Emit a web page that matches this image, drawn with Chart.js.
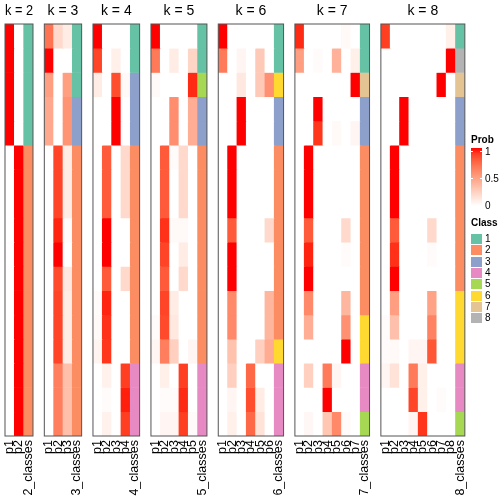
<!DOCTYPE html>
<html>
<head>
<meta charset="utf-8">
<script src="https://cdn.jsdelivr.net/npm/chart.js@4.4.1/dist/chart.umd.min.js"></script>
<style>
  html, body { margin: 0; padding: 0; background: #fff; }
  #wrap { position: relative; width: 504px; height: 504px; overflow: hidden;
          font-family: "Liberation Sans", Arial, sans-serif; color: #000; }
  #wrap canvas { position: absolute; left: 0; top: 0; }
  .lg-title { position: absolute; font-weight: bold; font-size: 10px; line-height: 10px; }
  .lg-text { position: absolute; font-size: 10px; line-height: 10px; }
  .lg-box { position: absolute; }
</style>
</head>
<body>
<div id="wrap"></div>
<script>
// Paneles k = 2..8, 17 muestras por panel (de arriba hacia abajo)
const kValues = [2, 3, 4, 5, 6, 7, 8];

const probK2 = [
    [1, 0], [1, 0], [1, 0], [1, 0], [1, 0],
    [0, 1], [0, 1], [0, 1], [0, 1], [0, 1], [0, 1],
    [0, 1], [0, 1], [0, 1], [0, 1], [0, 1], [0, 1]
];
const classK2 = [1, 1, 1, 1, 1, 2, 2, 2, 2, 2, 2, 2, 2, 2, 2, 2, 2];

const probK3 = [
    [0.7, 0.2, 0.1], [1, 0, 0], [0.5, 0, 0.5], [0.45, 0, 0.55], [0.45, 0, 0.55],
    [0, 0.88, 0.1], [0, 0.88, 0.1], [0, 0.88, 0.1], [0, 0.96, 0.02], [0, 1, 0],
    [0, 0.86, 0.12], [0, 0.88, 0.1], [0, 0.88, 0.1], [0, 0.88, 0.1],
    [0, 0.65, 0.33], [0, 0.65, 0.33], [0, 0.65, 0.33]
];
const classK3 = [1, 1, 1, 3, 3, 2, 2, 2, 2, 2, 2, 2, 2, 2, 2, 2, 2];

const probK4 = [
    [1, 0, 0, 0], [0.88, 0, 0.08, 0], [0.1, 0, 0.85, 0.03], [0, 0, 1, 0], [0, 0, 1, 0],
    [0, 0.8, 0, 0.2], [0, 0.8, 0, 0.2], [0, 0.8, 0, 0.2], [0, 1, 0, 0], [0, 1, 0, 0],
    [0, 0.8, 0, 0.2], [0.02, 0.96, 0, 0], [0.03, 0.93, 0, 0], [0.06, 0.92, 0, 0],
    [0, 0.07, 0, 0.9], [0, 0.02, 0, 0.97], [0, 0.07, 0, 0.9]
];
const classK4 = [1, 1, 3, 3, 3, 2, 2, 2, 2, 2, 2, 2, 2, 2, 4, 4, 4];

const probK5 = [
    [1, 0, 0, 0, 0], [0.67, 0, 0.1, 0, 0.22], [0.03, 0, 0, 0, 0.95],
    [0, 0, 0.58, 0, 0.42], [0, 0, 0.58, 0, 0.42],
    [0, 0.8, 0.02, 0.2, 0], [0, 0.8, 0, 0.2, 0], [0, 0.8, 0, 0.2, 0],
    [0, 0.93, 0.03, 0.03, 0], [0, 0.88, 0, 0.1, 0], [0, 0.8, 0, 0.2, 0],
    [0, 0.88, 0.1, 0, 0], [0.02, 0.86, 0.12, 0, 0], [0.05, 0.65, 0.25, 0, 0.05],
    [0, 0.08, 0, 0.9, 0], [0, 0.02, 0.02, 0.95, 0], [0, 0.05, 0.05, 0.9, 0.02]
];
const classK5 = [1, 1, 5, 3, 3, 2, 2, 2, 2, 2, 2, 2, 2, 2, 4, 4, 4];

const probK6 = [
    [1, 0, 0, 0, 0, 0], [0.67, 0, 0.05, 0, 0.28, 0], [0, 0, 0.12, 0, 0.28, 0.57],
    [0, 0, 1, 0, 0, 0], [0, 0, 1, 0, 0, 0],
    [0, 1, 0, 0, 0, 0], [0, 1, 0, 0, 0, 0], [0, 1, 0, 0, 0, 0],
    [0, 0.8, 0, 0, 0, 0.2], [0, 1, 0, 0, 0, 0], [0, 1, 0, 0, 0, 0],
    [0, 0.6, 0, 0, 0, 0.38], [0, 0.6, 0, 0, 0, 0.38], [0, 0.32, 0, 0, 0.25, 0.43],
    [0, 0.25, 0, 0.75, 0, 0], [0, 0.05, 0, 0.85, 0.1, 0], [0, 0.08, 0, 0.75, 0.15, 0]
];
const classK6 = [1, 1, 6, 3, 3, 2, 2, 2, 2, 2, 2, 2, 2, 6, 4, 4, 4];

const probK7 = [
    [0.95, 0, 0, 0, 0, 0.03, 0], [0.5, 0, 0.02, 0, 0.4, 0, 0.08], [0, 0, 0, 0, 0, 0, 1],
    [0, 0, 1, 0, 0, 0, 0], [0, 0, 0.92, 0, 0.03, 0, 0.05],
    [0, 1, 0, 0, 0, 0, 0], [0, 1, 0, 0, 0, 0, 0], [0, 1, 0, 0, 0, 0, 0],
    [0, 0.8, 0, 0, 0, 0.2, 0], [0, 0.96, 0, 0, 0, 0.02, 0], [0, 1, 0, 0, 0, 0, 0],
    [0, 0.6, 0, 0, 0, 0.38, 0], [0, 0.42, 0, 0, 0, 0.57, 0], [0, 0, 0, 0, 0, 1, 0],
    [0, 0.25, 0, 0.67, 0.05, 0, 0], [0, 0, 0, 1, 0, 0, 0], [0, 0.04, 0, 0.3, 0.6, 0.02, 0]
];
const classK7 = [1, 1, 7, 3, 3, 2, 2, 2, 2, 2, 2, 2, 6, 6, 4, 4, 5];

const probK8 = [
    [0.9, 0, 0, 0, 0, 0, 0, 0.08], [0, 0, 0, 0, 0, 0, 0, 1], [0, 0, 0, 0, 0, 0, 1, 0],
    [0, 0, 1, 0, 0, 0, 0, 0], [0, 0, 1, 0, 0, 0, 0, 0],
    [0, 1, 0, 0, 0, 0, 0, 0], [0, 1, 0, 0, 0, 0, 0, 0], [0, 1, 0, 0, 0, 0, 0, 0],
    [0, 0.8, 0, 0, 0, 0.2, 0, 0], [0, 0.93, 0, 0, 0, 0.02, 0, 0], [0, 1, 0, 0, 0, 0, 0, 0],
    [0, 0.5, 0, 0, 0, 0.48, 0, 0], [0.02, 0.33, 0, 0, 0, 0.63, 0, 0],
    [0.02, 0.03, 0, 0.05, 0.05, 0.82, 0, 0],
    [0.05, 0.15, 0, 0.67, 0.08, 0, 0, 0], [0, 0, 0, 0.88, 0.08, 0, 0.02, 0],
    [0, 0, 0, 0.05, 0.92, 0, 0, 0]
];
const classK8 = [1, 8, 7, 3, 3, 2, 2, 2, 2, 2, 2, 6, 6, 6, 4, 4, 5];

const probSets = [probK2, probK3, probK4, probK5, probK6, probK7, probK8];
const classSets = [classK2, classK3, classK4, classK5, classK6, classK7, classK8];

// Leyendas
const classLabels = ['1', '2', '3', '4', '5', '6', '7', '8'];
const classColors = ['#66C2A5', '#FC8D62', '#8DA0CB', '#E78AC3', '#A6D854', '#FFD92F', '#E5C494', '#B3B3B3'];
const probTicks = [1, 0.5, 0];

const FONT = '"Liberation Sans", Arial, sans-serif';
const PAGE = 504;
const COL_W = 9.33;
const GAP = 11.33;
const LEFT = 5;

// Escala blanco -> rojo interpolada en LAB (como colorRamp2)
function whiteRed(v) {
    const L = 100 + (53.24 - 100) * v, A = 80.09 * v, B = 67.2 * v;
    const fy = (L + 16) / 116, fx = fy + A / 500, fz = fy - B / 200;
    const f = t => t > 0.206893 ? t * t * t : (t - 16 / 116) / 7.787;
    const X = 0.95047 * f(fx), Y = f(fy), Z = 1.08883 * f(fz);
    const r = 3.2406 * X - 1.5372 * Y - 0.4986 * Z;
    const g = -0.9689 * X + 1.8758 * Y + 0.0415 * Z;
    const b = 0.0557 * X - 0.2040 * Y + 1.0570 * Z;
    const gam = c => {
        c = Math.min(1, Math.max(0, c));
        return Math.round(255 * (c <= 0.0031308 ? 12.92 * c : 1.055 * Math.pow(c, 1 / 2.4) - 0.055));
    };
    return `rgb(${gam(r)},${gam(g)},${gam(b)})`;
}

const panelBorder = {
    id: 'panelBorder',
    afterDatasetsDraw(chart) {
        const { ctx, chartArea: a } = chart;
        ctx.save();
        ctx.strokeStyle = '#555';
        ctx.lineWidth = 1;
        ctx.strokeRect(a.left, a.top, a.right - a.left, a.bottom - a.top);
        ctx.restore();
    }
};

const wrap = document.getElementById('wrap');
let x0 = LEFT;

kValues.forEach((k, idx) => {
    const probs = probSets[idx];
    const classes = classSets[idx];
    const nCols = k + 1;
    const width = nCols * COL_W;

    const labels = [];
    for (let i = 1; i <= k; i++) labels.push('p' + i);
    labels.push(k + '_classes');

    // Cada fila es un segmento apilado de altura 1
    const datasets = probs.map((row, r) => ({
        data: labels.map(() => 1),
        backgroundColor: [...row.map(whiteRed), classColors[classes[r] - 1]],
        borderWidth: 0,
        categoryPercentage: 1,
        barPercentage: 1
    }));

    const canvas = document.createElement('canvas');
    canvas.width = PAGE;
    canvas.height = PAGE;
    wrap.appendChild(canvas);

    new Chart(canvas, {
        type: 'bar',
        data: { labels, datasets },
        options: {
            responsive: false,
            animation: false,
            events: [],
            layout: { padding: { left: x0, right: PAGE - x0 - width, top: 0, bottom: 0 } },
            plugins: {
                legend: { display: false },
                tooltip: { enabled: false },
                title: {
                    display: true,
                    text: 'k = ' + k,
                    color: '#000',
                    font: { family: FONT, size: 14, weight: 'normal' },
                    padding: { top: 3, bottom: 4.2 }
                }
            },
            scales: {
                x: {
                    stacked: true,
                    grid: { display: false, drawTicks: false },
                    border: { display: false },
                    ticks: {
                        autoSkip: false,
                        minRotation: 90,
                        maxRotation: 90,
                        padding: 4,
                        color: '#000',
                        font: { family: FONT, size: 12.5 }
                    },
                    afterFit(scale) { scale.height = 68; }
                },
                y: {
                    stacked: true,
                    display: false,
                    reverse: true,
                    min: 0,
                    max: probs.length
                }
            }
        },
        plugins: [panelBorder]
    });

    x0 += width + GAP;
});

// --- Leyendas (Prob y Class) ---
function addEl(cls, text, left, top, style) {
    const el = document.createElement('div');
    el.className = cls;
    if (text !== null) el.textContent = text;
    el.style.left = left + 'px';
    el.style.top = top + 'px';
    Object.assign(el.style, style || {});
    wrap.appendChild(el);
    return el;
}

const LG_X = 471;
addEl('lg-title', 'Prob', LG_X, 135);
const stops = [];
for (let i = 0; i <= 10; i++) stops.push(whiteRed(1 - i / 10) + ' ' + (i * 10) + '%');
addEl('lg-box', null, LG_X, 148, {
    width: '11px', height: '58px',
    background: 'linear-gradient(to bottom, ' + stops.join(', ') + ')'
});
probTicks.forEach(t => {
    const y = 206 - t * 54.5;
    addEl('lg-text', String(t), LG_X + 14, y - 5);
    if (t > 0) {
        addEl('lg-box', null, LG_X, y - 0.5, { width: '2px', height: '1px', background: '#fff' });
        addEl('lg-box', null, LG_X + 9, y - 0.5, { width: '2px', height: '1px', background: '#fff' });
    }
});

addEl('lg-title', 'Class', LG_X, 218);
classLabels.forEach((lab, i) => {
    const cy = 239 + i * 11.33;
    addEl('lg-box', null, LG_X, cy - 5, { width: '11px', height: '10px', background: classColors[i] });
    addEl('lg-text', lab, LG_X + 14, cy - 5);
});
</script>
</body>
</html>
